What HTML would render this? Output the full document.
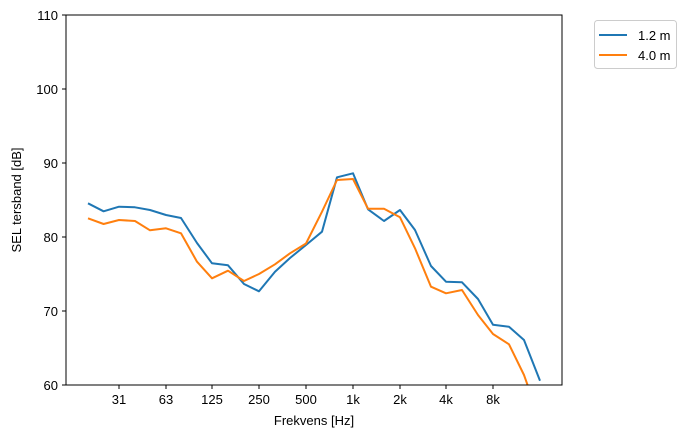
<!DOCTYPE html>
<html><head><meta charset="utf-8"><style>body{margin:0;background:#fff}</style></head><body>
<svg width="693" height="438" xmlns="http://www.w3.org/2000/svg" font-family="Liberation Sans, DejaVu Sans, sans-serif" font-size="13">
<defs><clipPath id="c"><rect x="66" y="15" width="496" height="370"/></clipPath></defs>
<g clip-path="url(#c)" fill="none" stroke-width="2" stroke-linejoin="round">
<polyline stroke="#1f77b4" points="88,203.3 103.6,211.3 119,206.7 135,207.3 150,210 166,215 181,218 197,243 212,263.3 228,265.3 244,284 259,291.3 275,271.7 290,258 306,245 322,231.7 337,177.3 353,173.3 368,209.3 384,221 400,210 415,230 431,266 446,281.7 462,282.3 478,299 493,324.7 509,326.7 524,340 540,380.7"/>
<polyline stroke="#ff7f0e" points="88,218.3 103.6,224 119,220 135,221 150,230.3 166,228.3 181,233.3 197,261.7 212,278.3 228,270.7 244,281 259,274 275,264.3 290,253.3 306,243.5 322,211.7 337,180 353,179 368,208.7 384,208.7 400,217.3 415,248.3 431,286.7 446,293.3 462,290 478,315 493,334 509,344.3 524,375 540,420"/>
</g>
<rect x="66" y="15" width="496" height="370" fill="none" stroke="#000" stroke-width="1"/>
<g stroke="#000">
<line x1="62" y1="385" x2="66" y2="385"/><line x1="62" y1="311" x2="66" y2="311"/><line x1="62" y1="237" x2="66" y2="237"/><line x1="62" y1="163" x2="66" y2="163"/><line x1="62" y1="89" x2="66" y2="89"/><line x1="62" y1="15" x2="66" y2="15"/>
<line x1="119" y1="385" x2="119" y2="389"/><line x1="166" y1="385" x2="166" y2="389"/><line x1="212" y1="385" x2="212" y2="389"/><line x1="259" y1="385" x2="259" y2="389"/><line x1="306" y1="385" x2="306" y2="389"/><line x1="353" y1="385" x2="353" y2="389"/><line x1="400" y1="385" x2="400" y2="389"/><line x1="446" y1="385" x2="446" y2="389"/><line x1="493" y1="385" x2="493" y2="389"/>
</g>
<g text-anchor="end">
<text x="58" y="390">60</text><text x="58" y="316">70</text><text x="58" y="242">80</text><text x="58" y="168">90</text><text x="58" y="94">100</text><text x="58" y="20">110</text>
</g>
<g text-anchor="middle">
<text x="119" y="404">31</text><text x="166" y="404">63</text><text x="212" y="404">125</text><text x="259" y="404">250</text><text x="306" y="404">500</text><text x="353" y="404">1k</text><text x="400" y="404">2k</text><text x="446" y="404">4k</text><text x="493" y="404">8k</text>
<text x="314" y="425">Frekvens [Hz]</text>
<text transform="translate(21,200) rotate(-90)">SEL tersband [dB]</text>
</g>
<rect x="594.5" y="20.5" width="82" height="48" rx="3" fill="#fff" stroke="#ccc"/>
<line x1="599" y1="35" x2="627" y2="35" stroke="#1f77b4" stroke-width="2"/>
<line x1="599" y1="55" x2="627" y2="55" stroke="#ff7f0e" stroke-width="2"/>
<text x="638" y="40">1.2 m</text><text x="638" y="60">4.0 m</text>
</svg>
</body></html>
